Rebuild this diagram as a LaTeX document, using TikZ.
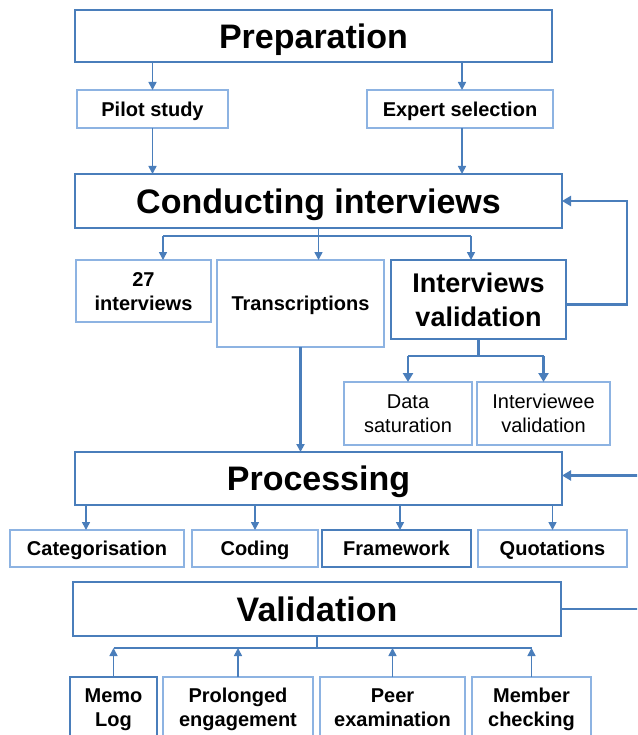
\documentclass[tikz,border=0pt]{standalone}
\usepackage{fontspec}
\setmainfont{Liberation Sans}
\usetikzlibrary{arrows.meta,calc}
\definecolor{mainblue}{HTML}{4A7EBB}
\definecolor{lightblue}{HTML}{8DB3E2}
\tikzset{
  x=1pt, y=-1pt,
  box/.style={draw=lightblue, line width=1.1pt, fill=white, align=center, inner sep=2pt, outer sep=0pt, font=\fontsize{20}{24}\selectfont\bfseries, text height=14.4pt, text depth=0pt},
  twoline/.style={text height=38.4pt, text depth=0pt},
  normbox/.style={box, font=\fontsize{20}{24}\selectfont},
  mainbox/.style={box, draw=mainblue, line width=2.6pt, font=\fontsize{34}{40}\selectfont\bfseries, text height=24.4pt, text depth=0pt},
  midbox/.style={box, draw=mainblue, line width=2.6pt, font=\fontsize{27}{34}\selectfont\bfseries, text height=53.4pt, text depth=0pt},
  thickbox/.style={box, draw=mainblue, line width=2.6pt},
  medbox/.style={box, draw=mainblue, line width=1.8pt},
  conn/.style={draw=mainblue, line width=1.6pt},
  arr/.style={conn, -{Triangle[length=8pt,width=8pt]}},
  thickconn/.style={draw=mainblue, line width=2.6pt},
  thickarr/.style={thickconn, -{Triangle[length=9pt,width=10pt]}},
}
\begin{document}
\begin{tikzpicture}
\useasboundingbox (0,0) rectangle (637,735);
\clip (0,0) rectangle (637,735);
\fill[white] (0,0) rectangle (637,735);

% boxes
\node[mainbox, minimum width=477pt, minimum height=52pt] (prep) at (313.5,36) {Preparation};
\node[box, minimum width=151pt, minimum height=38pt] (pilot) at (152.5,109) {Pilot study};
\node[box, minimum width=186pt, minimum height=38pt] (expert) at (460,109) {Expert selection};
\node[mainbox, minimum width=487pt, minimum height=54pt] (conduct) at (318.5,201) {Conducting interviews};
\node[box, twoline, minimum width=135pt, minimum height=62pt] (i27) at (143.5,291) {27\\interviews};
\node[box, minimum width=167pt, minimum height=87pt] (trans) at (300.5,303.5) {Transcriptions};
\node[midbox, minimum width=175pt, minimum height=79pt] (ival) at (478.5,299.5) {Interviews\\validation};
\node[normbox, twoline, minimum width=128pt, minimum height=63pt] (datasat) at (408,413.5) {Data\\saturation};
\node[normbox, twoline, minimum width=133pt, minimum height=63pt] (intvee) at (543.5,413.5) {Interviewee\\validation};
\node[mainbox, minimum width=487pt, minimum height=53pt] (proc) at (318.5,478.5) {Processing};
\node[box, minimum width=174pt, minimum height=37pt] (cat) at (97,548.5) {Categorisation};
\node[box, minimum width=126pt, minimum height=37pt] (coding) at (255,548.5) {Coding};
\node[thickbox, minimum width=149pt, minimum height=37pt] (frame) at (396.5,548.5) {Framework};
\node[box, minimum width=149pt, minimum height=37pt] (quot) at (552.5,548.5) {Quotations};
\node[mainbox, minimum width=488pt, minimum height=54pt] (valid) at (317,609) {Validation};
\node[medbox, twoline, minimum width=87pt, minimum height=60pt] (memo) at (113.5,707) {Memo\\Log};
\node[box, twoline, minimum width=150pt, minimum height=60pt] (prol) at (238,707) {Prolonged\\engagement};
\node[box, twoline, minimum width=145pt, minimum height=60pt] (peer) at (392.5,707) {Peer\\examination};
\node[box, twoline, minimum width=119pt, minimum height=60pt] (member) at (531.5,707) {Member\\checking};

% Preparation
\draw[arr] (pilot.north |- prep.south) -- (pilot.north);
\draw[arr] ([xshift=2pt]expert.north |- prep.south) -- ([xshift=2pt]expert.north);
\draw[arr] (pilot.south) -- (pilot.south |- conduct.north);
\draw[arr] ([xshift=2pt]expert.south) -- ([xshift=2pt]expert.south |- conduct.north);

% Conducting branches
\coordinate (b1) at (163,236);
\coordinate (b3) at (471,236);
\draw[conn] (conduct.south) -- (conduct.south |- b1);
\draw[conn] (b1) -- (b3);
\draw[arr] (b1) -- (b1 |- i27.north);
\draw[arr] (conduct.south |- b1) -- (conduct.south |- trans.north);
\draw[arr] (b3) -- (b3 |- ival.north);

% feedback interviews validation
\draw[thickarr] ([yshift=-5pt]ival.east) -- ++(61,0) |- (conduct.east);

% interviews validation branches
\coordinate (v1) at (408,356);
\coordinate (v2) at (543.5,356);
\draw[thickconn] (ival.south) -- (ival.south |- v1);
\draw[thickconn] (v1) -- (v2);
\draw[thickarr] (v1) -- (datasat.north);
\draw[thickarr] (v2) -- (intvee.north);

% transcriptions to processing
\draw[arr, line width=2.2pt] (trans.south) -- (trans.south |- proc.north);

% feedback from validation to processing (loop leaves the picture)
\draw[thickarr] (valid.east) -- ++(90,0) |- ([yshift=3pt]proc.east);

% processing branches
\draw[arr] ([xshift=-11pt]cat.north |- proc.south) -- ([xshift=-11pt]cat.north);
\draw[arr] (coding.north |- proc.south) -- (coding.north);
\draw[arr] ([xshift=3.5pt]frame.north |- proc.south) -- ([xshift=3.5pt]frame.north);
\draw[arr] (quot.north |- proc.south) -- (quot.north);

% validation branches
\coordinate (w1) at (113.5,648);
\coordinate (w4) at (531.5,648);
\draw[conn] (valid.south) -- (valid.south |- w1);
\draw[conn] (w1) -- (w4);
\draw[arr] (memo.north) -- (w1);
\draw[arr] (prol.north) -- (prol.north |- w1);
\draw[arr] (peer.north) -- (peer.north |- w1);
\draw[arr] (member.north) -- (w4);
\end{tikzpicture}
\end{document}
